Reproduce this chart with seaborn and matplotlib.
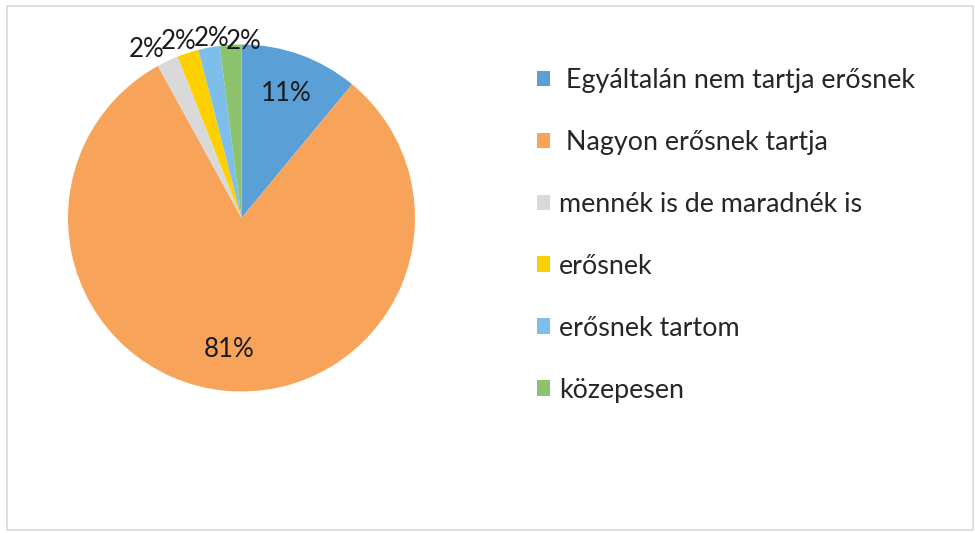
import numpy as np
import matplotlib
matplotlib.use("Agg")
from matplotlib import pyplot as plt
from matplotlib.patches import Rectangle
import seaborn as sns

# Data
categories = [
    " Egyáltalán nem tartja erősnek",
    " Nagyon erősnek tartja",
    "mennék is de maradnék is",
    "erősnek",
    "erősnek tartom",
    "közepesen",
]
shares = [11, 81, 2, 2, 2, 2]
colors = ["#5B9FD7", "#F7A45A", "#D9D9D9", "#FFD000", "#7DBFEA", "#8CC26B"]

sns.set_style("white")
plt.rcParams['font.family'] = ['Lato', 'DejaVu Sans']

fig = plt.figure(figsize=(9.75, 5.33), dpi=100)

# thin frame around the chart area
fig.patches.append(Rectangle((7 / 975, 3 / 533), 966 / 975, 524 / 533,
                             transform=fig.transFigure, fill=False,
                             edgecolor="#D9D9D9", linewidth=1.2))

ax = fig.add_axes([68 / 975, (533 - 218 - 173.5) / 533, 347 / 975, 347 / 533])
pct = 0.76
wedges, texts, autotexts = ax.pie(
    shares, colors=colors, startangle=90, counterclock=False,
    autopct="%d%%", pctdistance=pct, radius=1,
    wedgeprops={"linewidth": 0},
    textprops={"fontsize": 18.6, "color": "#1a1a1a"},
)

# small slices: labels go outside, fanned out a bit like the original
small = [i for i, v in enumerate(shares) if v < 5]
mids = {i: np.degrees(np.arctan2(*autotexts[i].get_position()[::-1])) for i in small}
centre = np.mean(list(mids.values()))
for i in small:
    off = (mids[i] - centre) * 1.4
    ang = np.radians(centre + off)
    r = 1.065 + 0.0033 * off
    autotexts[i].set_position((r * np.cos(ang), r * np.sin(ang)))

ax.set_xlim(-1, 1)
ax.set_ylim(-1, 1)
ax.set_aspect("equal")
ax.axis("off")

fig.legend(wedges, categories, loc="upper left",
           bbox_to_anchor=(537 / 975, 1 - 68 / 533),
           frameon=False, fontsize=19.4, handlelength=0.5, handleheight=0.5,
           handletextpad=0.33, labelspacing=1.37, borderpad=0, borderaxespad=0)

fig.savefig("out.png", dpi=100, facecolor="white")
